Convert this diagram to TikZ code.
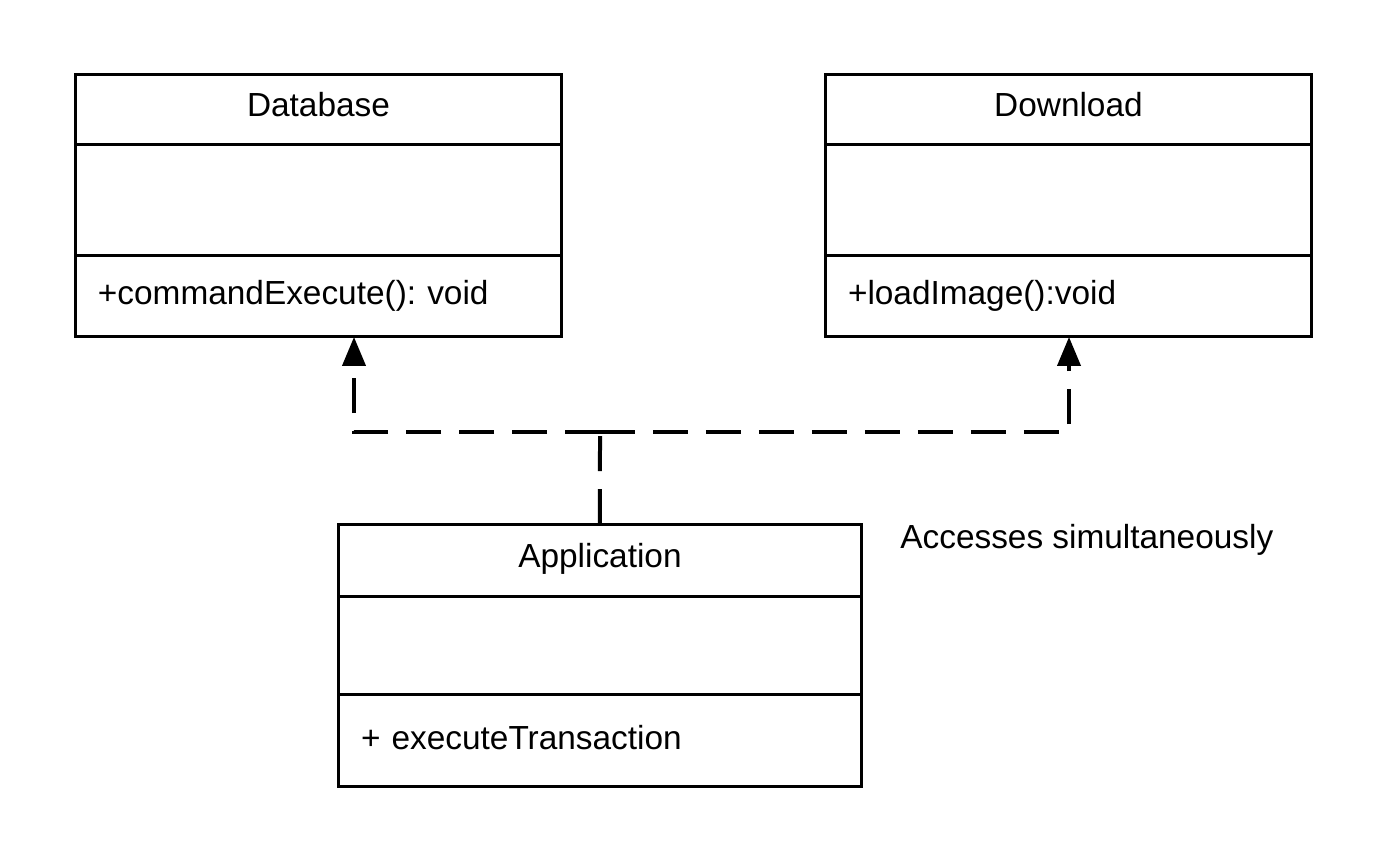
\documentclass[tikz,border=0pt]{standalone}
\usepackage{fontspec}
\setmainfont{Liberation Sans}
\usetikzlibrary{positioning,arrows.meta}

\begin{document}
\begin{tikzpicture}[x=0.02cm, y=-0.02cm, font=\fontsize{19}{23}\selectfont\frenchspacing, line join=miter,
  >={Triangle[width=0.46cm,length=0.58cm]},
  classbox/.style={draw, line width=0.06cm, outer sep=0pt, inner sep=0pt, minimum width=9.74cm},
  classname/.style={text height=0.48cm, text depth=0.18cm},
  classop/.style={inner xsep=0.46cm, text width=8.82cm, align=left, text height=0.48cm, text depth=0.14cm},
  link/.style={line width=0.08cm, dash pattern=on 0.7cm off 0.36cm}]
\useasboundingbox (0,0) rectangle (1388,863);
% Klasse Database
\node[classbox, classname, minimum height=1.42cm, anchor=north west] (dbtitle) at (75,74) {Database};
\node[classbox, minimum height=2.22cm, below=0pt of dbtitle] (dbattr) {};
\node[classbox, classop, minimum height=1.62cm, below=0pt of dbattr] (dbop) {+commandExecute(): void};
% Klasse Download
\node[classbox, classname, minimum height=1.42cm, anchor=north west] (dltitle) at (825,74) {Download};
\node[classbox, minimum height=2.22cm, below=0pt of dltitle] (dlattr) {};
\node[classbox, classop, minimum height=1.62cm, below=0pt of dlattr] (dlop) {+loadImage():void};
% Klasse Application (etwas breiter)
\begin{scope}[classbox/.append style={minimum width=10.48cm}, classop/.append style={text width=9.56cm}]
\node[classbox, classname, minimum height=1.44cm, anchor=north west] (apptitle) at (338,524) {Application};
\node[classbox, minimum height=1.98cm, below=0pt of apptitle] (appattr) {};
\node[classbox, classop, minimum height=1.84cm, below=0pt of appattr] (appop) {+ executeTransaction};
\end{scope}
% Abhaengigkeiten (gestrichelt)
\coordinate (split) at (600,432);
\coordinate (dbturn) at (354,432);
\coordinate (dlturn) at (1069,432);
\draw[link] (apptitle.north) -- (split);
\draw[link, ->] (split) -- (dbturn) -- (dbturn |- dbop.south);
\draw[link, ->] (split) -- (dlturn) -- (dlturn |- dlop.south);
% Notiz
\node[anchor=west, inner sep=0pt] (note) at (900,540) {Accesses simultaneously};
\end{tikzpicture}
\end{document}
